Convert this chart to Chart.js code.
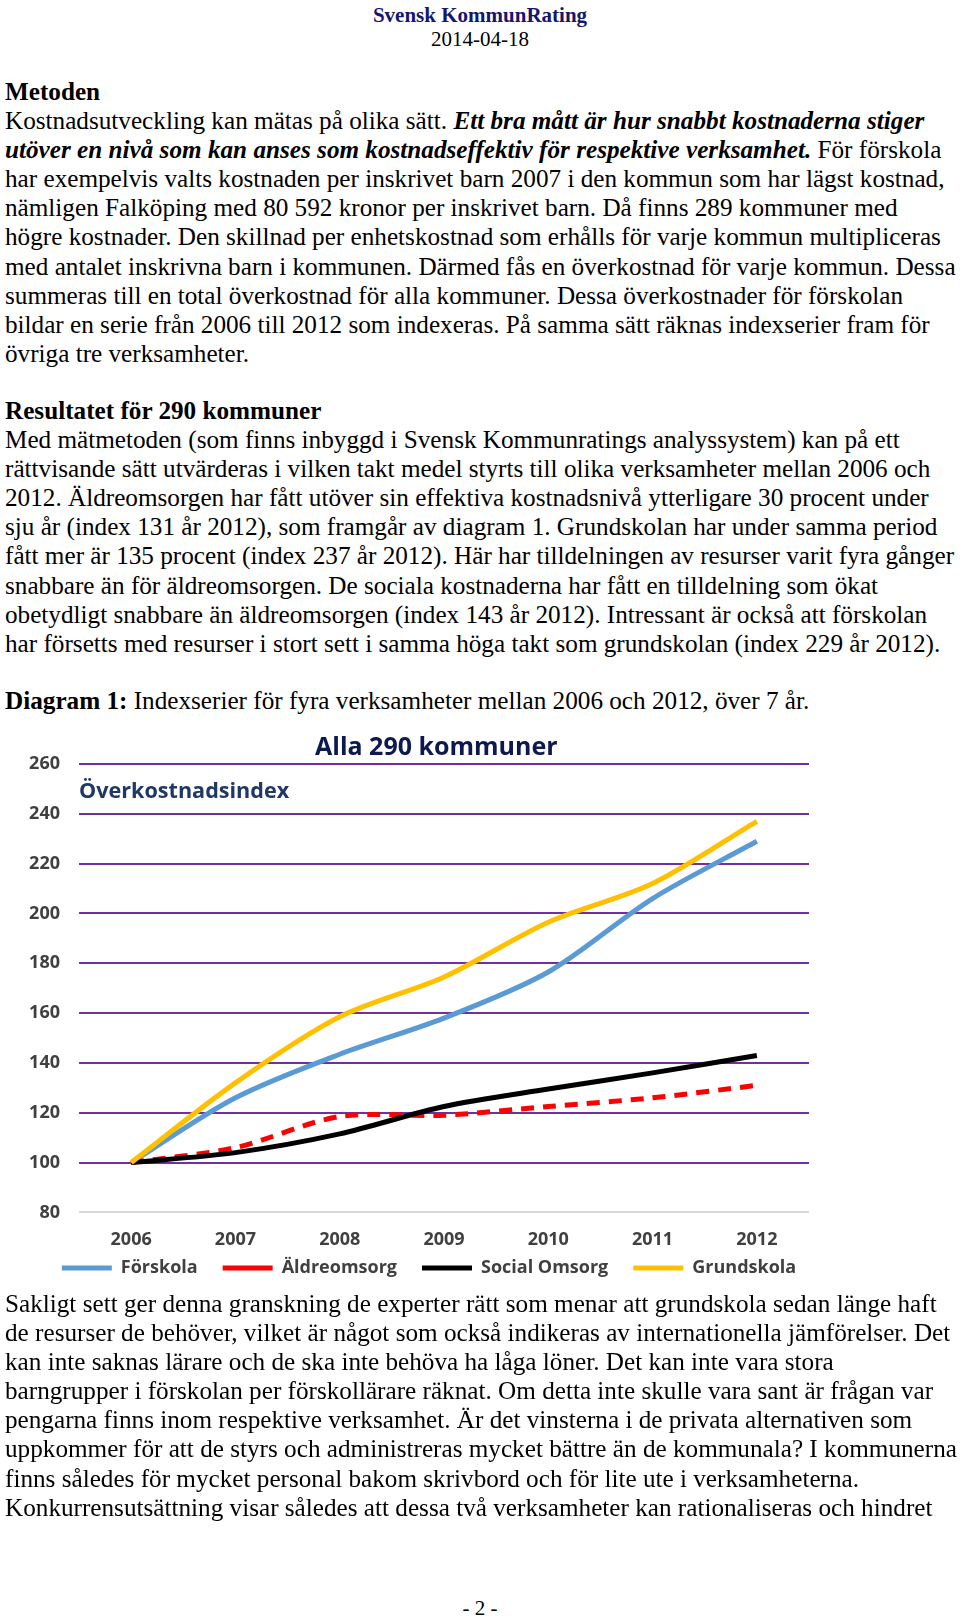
<!DOCTYPE html>
<html lang="sv">
<head>
<meta charset="utf-8">
<script src="https://cdn.jsdelivr.net/npm/chart.js@4.4.0/dist/chart.umd.min.js"></script>
<style>
  body { margin: 0; width: 960px; height: 1618px; background: #fff; position: relative; overflow: hidden;
         font-family: "Liberation Serif", "Times New Roman", serif; color: #000; }
  .hdr { position: absolute; left: 0; width: 960px; text-align: center; font-size: 21px; line-height: 24px; }
  .blk { position: absolute; left: 5px; font-size: 25.2px; line-height: 29.1px; white-space: nowrap; }
  #wrap { position: absolute; left: 0; top: 720px; width: 858px; height: 593px; }
  .ctitle { position: absolute; font-family: "Open Sans", sans-serif; font-weight: bold; white-space: nowrap; }
</style>
</head>
<body>
<div class="hdr" style="top:3px;font-weight:bold;color:#16166e;">Svensk KommunRating</div>
<div class="hdr" style="top:27px;">2014-04-18</div>

<div id="wrap"><canvas id="chart" width="858" height="593"></canvas></div>
<div class="ctitle" style="left:315px;top:730px;font-size:25px;line-height:30px;color:#0e1a4f;">Alla 290 kommuner</div>
<div class="ctitle" style="left:79px;top:777px;font-size:21.6px;line-height:26px;color:#1f3864;">Överkostnadsindex</div>

<div class="blk" style="top:77px;">
<b>Metoden</b><br>
Kostnadsutveckling kan mätas på olika sätt. <b><i>Ett bra mått är hur snabbt kostnaderna stiger</i></b><br>
<b><i>utöver en nivå som kan anses som kostnadseffektiv för respektive verksamhet.</i></b> För förskola<br>
har exempelvis valts kostnaden per inskrivet barn 2007 i den kommun som har lägst kostnad,<br>
nämligen Falköping med 80 592 kronor per inskrivet barn. Då finns 289 kommuner med<br>
högre kostnader. Den skillnad per enhetskostnad som erhålls för varje kommun multipliceras<br>
med antalet inskrivna barn i kommunen. Därmed fås en överkostnad för varje kommun. Dessa<br>
summeras till en total överkostnad för alla kommuner. Dessa överkostnader för förskolan<br>
bildar en serie från 2006 till 2012 som indexeras. På samma sätt räknas indexserier fram för<br>
övriga tre verksamheter.
</div>

<div class="blk" style="top:396px;">
<b>Resultatet för 290 kommuner</b><br>
Med mätmetoden (som finns inbyggd i Svensk Kommunratings analyssystem) kan på ett<br>
rättvisande sätt utvärderas i vilken takt medel styrts till olika verksamheter mellan 2006 och<br>
2012. Äldreomsorgen har fått utöver sin effektiva kostnadsnivå ytterligare 30 procent under<br>
sju år (index 131 år 2012), som framgår av diagram 1. Grundskolan har under samma period<br>
fått mer är 135 procent (index 237 år 2012). Här har tilldelningen av resurser varit fyra gånger<br>
snabbare än för äldreomsorgen. De sociala kostnaderna har fått en tilldelning som ökat<br>
obetydligt snabbare än äldreomsorgen (index 143 år 2012). Intressant är också att förskolan<br>
har försetts med resurser i stort sett i samma höga takt som grundskolan (index 229 år 2012).
</div>

<div class="blk" style="top:686px;"><b>Diagram 1:</b> Indexserier för fyra verksamheter mellan 2006 och 2012, över 7 år.</div>

<div class="blk" style="top:1289px;">
Sakligt sett ger denna granskning de experter rätt som menar att grundskola sedan länge haft<br>
de resurser de behöver, vilket är något som också indikeras av internationella jämförelser. Det<br>
kan inte saknas lärare och de ska inte behöva ha låga löner. Det kan inte vara stora<br>
barngrupper i förskolan per förskollärare räknat. Om detta inte skulle vara sant är frågan var<br>
pengarna finns inom respektive verksamhet. Är det vinsterna i de privata alternativen som<br>
uppkommer för att de styrs och administreras mycket bättre än de kommunala? I kommunerna<br>
finns således för mycket personal bakom skrivbord och för lite ute i verksamheterna.<br>
Konkurrensutsättning visar således att dessa två verksamheter kan rationaliseras och hindret
</div>

<div class="hdr" style="top:1596px;">- 2 -</div>

<script>
const years = ["2006", "2007", "2008", "2009", "2010", "2011", "2012"];
const forskola = [100, 126, 143.5, 158, 176.5, 206, 229];
const aldreomsorg = [100, 106, 118.5, 119, 122.5, 126, 131];
const socialOmsorg = [100, 104, 111.5, 122.5, 129.5, 136, 143];
const grundskola = [100, 132, 158.5, 174.5, 196.5, 212, 237];
const seriesNames = ["Förskola", "Äldreomsorg", "Social Omsorg", "Grundskola"];
const yMin = 80, yMax = 260, yStep = 20;

Chart.defaults.font.family = "'Open Sans', sans-serif";

// pull the legend up closer to the year labels
const legendLift = {
  id: "legendLift",
  afterLayout(chart) {
    chart.legend.top -= 26;
    chart.legend.bottom -= 26;
  },
};

const ctx = document.getElementById("chart");
let myChart = new Chart(ctx, {
  type: "line",
  plugins: [legendLift],
  data: {
    labels: years,
    datasets: [
      { label: seriesNames[0], data: forskola, borderColor: "#5b9bd5", backgroundColor: "#5b9bd5", order: 4 },
      { label: seriesNames[1], data: aldreomsorg, borderColor: "#ff0000", backgroundColor: "#ff0000", borderDash: [13, 9], order: 3 },
      { label: seriesNames[2], data: socialOmsorg, borderColor: "#000000", backgroundColor: "#000000", order: 2 },
      { label: seriesNames[3], data: grundskola, borderColor: "#ffc000", backgroundColor: "#ffc000", order: 1 },
    ].map((d) => ({ ...d, yAxisID: "y", borderWidth: 5, pointRadius: 0, tension: 0.3, fill: false })),
  },
  options: {
    responsive: false,
    animation: false,
    layout: { padding: { top: 44, left: 0, right: 0, bottom: 0 } },
    plugins: {
      tooltip: { enabled: false },
      legend: {
        position: "bottom",
        labels: {
          usePointStyle: true,
          pointStyle: "line",
          pointStyleWidth: 50,
          boxHeight: 5,
          padding: 25,
          color: "#404040",
          font: { size: 18, weight: "bold" },
          sort: (a, b) => a.datasetIndex - b.datasetIndex,
        },
      },
    },
    scales: {
      x: {
        offset: true,
        grid: { display: false },
        border: { display: false },
        ticks: { padding: 9, color: "#404040", font: { size: 18, weight: "bold" } },
      },
      y: {
        min: yMin,
        max: yMax,
        border: { display: false },
        grid: {
          drawTicks: false,
          lineWidth: 2,
          color: (c) => (c.tick && c.tick.value === yMin ? "#d9d9d9" : "#7030a0"),
        },
        ticks: { stepSize: yStep, padding: 19, color: "#404040", font: { size: 18, weight: "bold" } },
        afterFit: (axis) => { axis.width = 79; },
      },
      y2: {
        position: "right",
        grid: { display: false },
        border: { display: false },
        ticks: { display: false },
        afterFit: (axis) => { axis.width = 49; },
      },
    },
  },
});
</script>
</body>
</html>
